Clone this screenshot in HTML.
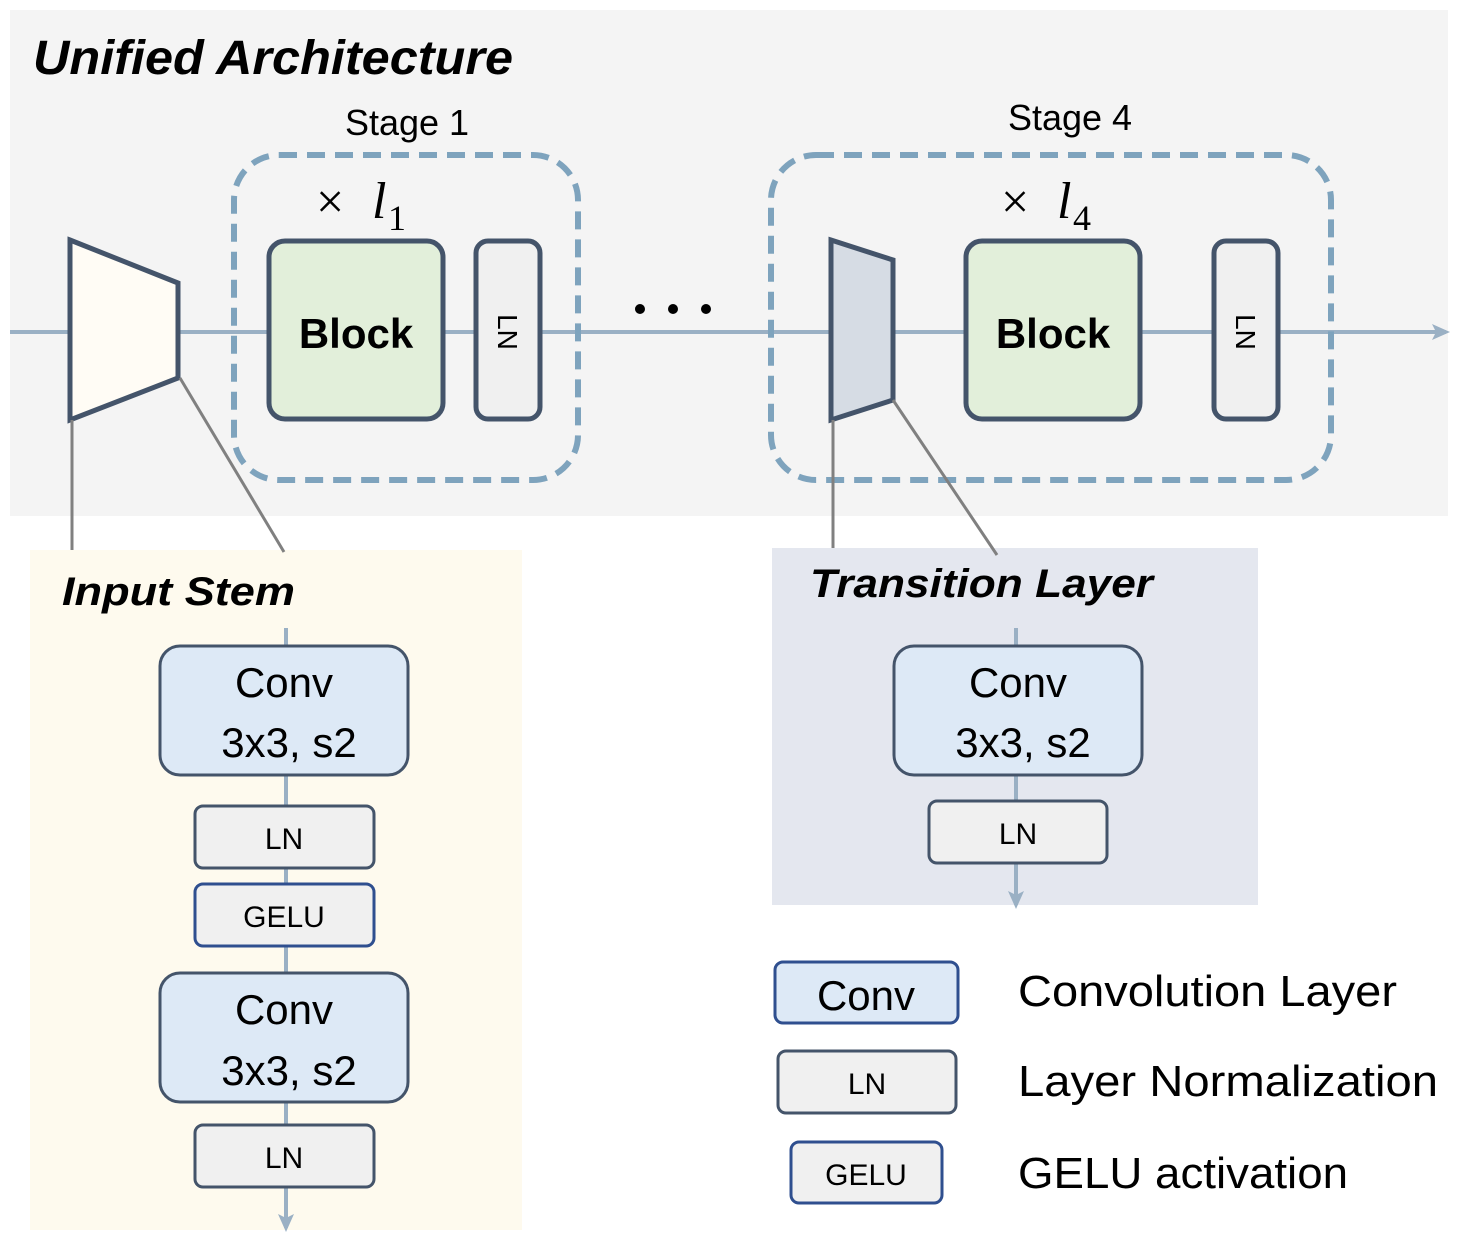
<!DOCTYPE html>
<html><head><meta charset="utf-8"><style>body{margin:0;background:#fff}svg{display:block}text{font-family:"Liberation Sans",sans-serif}</style></head><body>
<svg width="1460" height="1247" viewBox="0 0 1460 1247" xmlns="http://www.w3.org/2000/svg">
<defs><marker id="ar" markerWidth="18" markerHeight="16" refX="14" refY="8" orient="auto" markerUnits="userSpaceOnUse"><path d="M0,0 L18,8 L0,16 L4,8 z" fill="#9ab0c4"/></marker></defs>
<rect x="10" y="10" width="1438" height="506" fill="#f4f4f4"/>
<text x="33" y="74" font-size="48" font-weight="bold" font-style="italic" textLength="480" lengthAdjust="spacingAndGlyphs">Unified Architecture</text>
<line x1="10" y1="332" x2="1446" y2="332" stroke="#9ab0c4" stroke-width="4" marker-end="url(#ar)"/>
<rect x="234" y="155" width="344" height="325" rx="45" fill="none" stroke="#7ea3bd" stroke-width="6" stroke-dasharray="18,10"/>
<rect x="771" y="155" width="560" height="325" rx="45" fill="none" stroke="#7ea3bd" stroke-width="6" stroke-dasharray="18,10"/>
<text x="407" y="135" font-size="36" text-anchor="middle">Stage 1</text>
<text x="1070" y="130" font-size="36" text-anchor="middle">Stage 4</text>
<g>
<text x="316" y="218" font-size="50" style="font-family:'Liberation Serif',serif">×</text><text x="372" y="218" font-size="52" font-style="italic" style="font-family:'Liberation Serif',serif">l</text><text x="388" y="230" font-size="36" style="font-family:'Liberation Serif',serif">1</text>
<text x="1001" y="218" font-size="50" style="font-family:'Liberation Serif',serif">×</text><text x="1057" y="218" font-size="52" font-style="italic" style="font-family:'Liberation Serif',serif">l</text><text x="1073" y="230" font-size="36" style="font-family:'Liberation Serif',serif">4</text>
</g>
<polygon points="70,240 178,283 178,378 70,420" fill="#fffcf5" stroke="#44546a" stroke-width="5"/>
<polygon points="831,240 893,260 893,400 831,420" fill="#d6dce4" stroke="#44546a" stroke-width="5"/>
<rect x="269" y="241" width="174" height="178" rx="16" fill="#e2efda" stroke="#44546a" stroke-width="5"/>
<rect x="966" y="241" width="174" height="178" rx="16" fill="#e2efda" stroke="#44546a" stroke-width="5"/>
<text x="356" y="348" font-size="42" font-weight="bold" text-anchor="middle">Block</text>
<text x="1053" y="348" font-size="42" font-weight="bold" text-anchor="middle">Block</text>
<rect x="476" y="241" width="64" height="178" rx="12" fill="#f0f0f0" stroke="#44546a" stroke-width="5"/>
<rect x="1214" y="241" width="64" height="178" rx="12" fill="#f0f0f0" stroke="#44546a" stroke-width="5"/>
<text transform="translate(498,332) rotate(90)" font-size="28" text-anchor="middle">LN</text>
<text transform="translate(1236,332) rotate(90)" font-size="28" text-anchor="middle">LN</text>
<circle cx="640" cy="309" r="5" fill="#000"/><circle cx="673" cy="309" r="5" fill="#000"/><circle cx="706" cy="309" r="5" fill="#000"/>
<rect x="30" y="550" width="492" height="680" fill="#fefaee"/>
<rect x="772" y="548" width="486" height="357" fill="#e4e7ef"/>
<g stroke="#808080" stroke-width="3"><line x1="72" y1="420" x2="72" y2="550"/><line x1="180" y1="378" x2="284" y2="552"/><line x1="833" y1="420" x2="833" y2="548"/><line x1="893" y1="400" x2="997" y2="555"/></g>
<text x="62" y="605" font-size="40" font-weight="bold" font-style="italic" textLength="233" lengthAdjust="spacingAndGlyphs">Input Stem</text>
<text x="810" y="597" font-size="40" font-weight="bold" font-style="italic" textLength="343" lengthAdjust="spacingAndGlyphs">Transition Layer</text>
<line x1="286" y1="628" x2="286" y2="1228" stroke="#9ab0c4" stroke-width="4" marker-end="url(#ar)"/>
<line x1="1016" y1="628" x2="1016" y2="905" stroke="#9ab0c4" stroke-width="4" marker-end="url(#ar)"/>
<g stroke="#44546a" stroke-width="3">
<rect x="160" y="646" width="248" height="129" rx="20" fill="#dde9f6"/>
<rect x="160" y="973" width="248" height="129" rx="20" fill="#dde9f6"/>
<rect x="894" y="646" width="248" height="129" rx="20" fill="#dde9f6"/>
<rect x="195" y="806" width="179" height="62" rx="8" fill="#f0f0f0"/>
<rect x="195" y="1125" width="179" height="62" rx="8" fill="#f0f0f0"/>
<rect x="929" y="801" width="178" height="62" rx="8" fill="#f0f0f0"/>
<rect x="778" y="1051" width="178" height="62" rx="8" fill="#f0f0f0"/>
</g>
<g stroke="#2f4f8f" stroke-width="3">
<rect x="195" y="884" width="179" height="62" rx="8" fill="#f0f0f0"/>
<rect x="775" y="962" width="183" height="61" rx="8" fill="#dde9f6"/>
<rect x="791" y="1142" width="151" height="61" rx="8" fill="#f0f0f0"/>
</g>
<g font-size="42" text-anchor="middle">
<text x="284" y="697">Conv</text><text x="289" y="757">3x3, s2</text>
<text x="284" y="1024">Conv</text><text x="289" y="1085">3x3, s2</text>
<text x="1018" y="697">Conv</text><text x="1023" y="757">3x3, s2</text>
<text x="866" y="1010">Conv</text>
</g>
<g font-size="30" text-anchor="middle">
<text x="284" y="849">LN</text><text x="284" y="927">GELU</text><text x="284" y="1168">LN</text>
<text x="1018" y="844">LN</text><text x="867" y="1094">LN</text><text x="866" y="1185">GELU</text>
</g>
<g font-size="44">
<text x="1018" y="1006" textLength="379" lengthAdjust="spacingAndGlyphs">Convolution Layer</text>
<text x="1018" y="1096" textLength="420" lengthAdjust="spacingAndGlyphs">Layer Normalization</text>
<text x="1018" y="1188" textLength="330" lengthAdjust="spacingAndGlyphs">GELU activation</text>
</g>
</svg>
</body></html>
